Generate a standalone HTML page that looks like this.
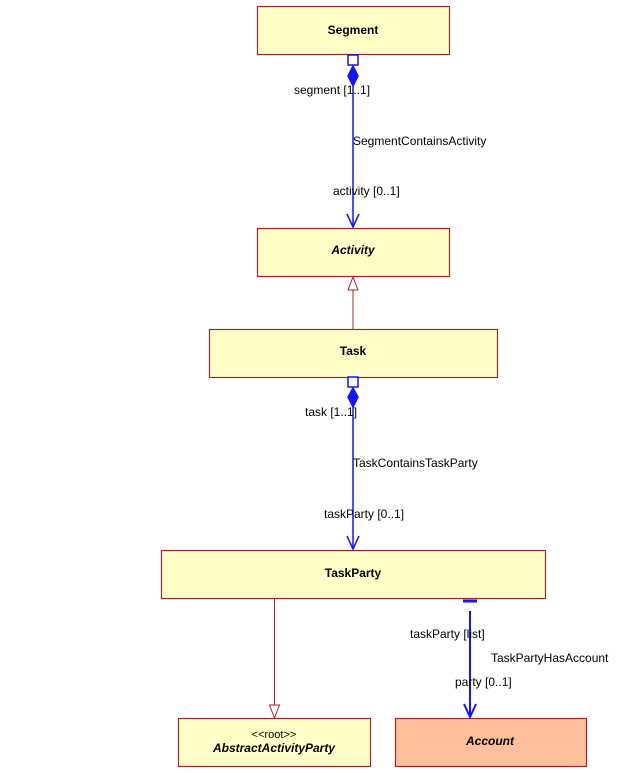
<!DOCTYPE html>
<html><head><style>body{margin:0;background:#fff}svg{display:block}text{font-family:"Liberation Sans",sans-serif;font-size:12px;fill:#000}.b{font-weight:bold}.i{font-style:italic;font-weight:bold}</style></head><body>
<svg width="627" height="773" xmlns="http://www.w3.org/2000/svg">
<g stroke="#a0282d" stroke-width="1.2" fill="#ffffc8">
<rect x="257.5" y="6.5" width="192" height="48"/>
<rect x="257.5" y="228.5" width="192" height="48"/>
<rect x="209.5" y="329.5" width="288" height="48"/>
<rect x="161.5" y="550.5" width="384" height="48"/>
<rect x="178.5" y="718.5" width="192" height="48"/>
<rect x="395.5" y="718.5" width="191" height="48" fill="#ffbf9b"/>
</g>
<text x="353" y="34" text-anchor="middle" class="b">Segment</text>
<text x="353" y="254" text-anchor="middle" class="i">Activity</text>
<text x="353" y="355" text-anchor="middle" class="b">Task</text>
<text x="353" y="577" text-anchor="middle" class="b">TaskParty</text>
<text x="274" y="738" text-anchor="middle" style="font-size:11px">&lt;&lt;root&gt;&gt;</text>
<text x="274" y="752" text-anchor="middle" class="i">AbstractActivityParty</text>
<text x="490" y="745" text-anchor="middle" class="i">Account</text>
<!-- generalizations -->
<g stroke="#a0282d" stroke-width="1" fill="#fff">
<line x1="353" y1="290" x2="353" y2="329"/>
<polygon points="353,277 348,290 358,290"/>
<line x1="274.5" y1="599" x2="274.5" y2="705"/>
<polygon points="274.5,718 269.5,705 279.5,705"/>
</g>
<!-- associations -->
<g stroke="#1414ff" fill="none" stroke-width="1.5">
<line x1="353" y1="86" x2="353" y2="227"/>
<polyline points="347,214 353,227 359,214"/>
<rect x="348" y="55" width="10" height="10" fill="#fff"/>
<polygon points="353,66 358,76 353,86 348,76" fill="#1414ff"/>
<line x1="353" y1="407" x2="353" y2="549"/>
<polyline points="347,536 353,549 359,536"/>
<rect x="348" y="377" width="10" height="10" fill="#fff"/>
<polygon points="353,388 358,397 353,407 348,397" fill="#1414ff"/>
<line x1="470" y1="611" x2="470" y2="717" stroke-width="2"/>
<polyline points="464,704 470,717 476,704" stroke-width="2"/>
<line x1="463" y1="601" x2="477" y2="601" stroke-width="3"/>
</g>
<text x="294" y="94">segment [1..1]</text>
<text x="353" y="145">SegmentContainsActivity</text>
<text x="333" y="195">activity [0..1]</text>
<text x="305" y="416">task [1..1]</text>
<text x="353" y="467">TaskContainsTaskParty</text>
<text x="324" y="518">taskParty [0..1]</text>
<text x="410" y="638">taskParty [list]</text>
<text x="491" y="662">TaskPartyHasAccount</text>
<text x="455" y="686">party [0..1]</text>
</svg>
</body></html>
